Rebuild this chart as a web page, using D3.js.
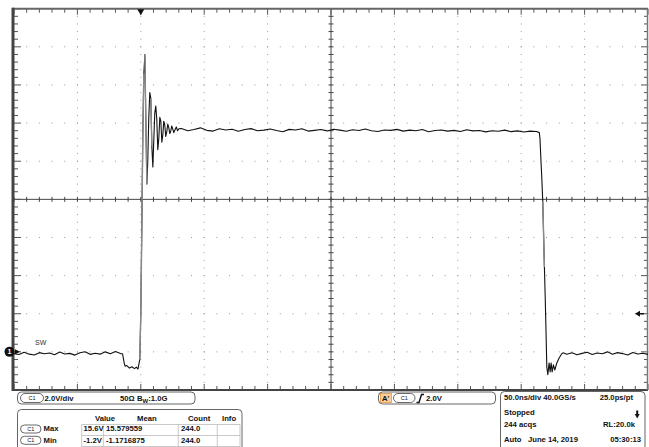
<!DOCTYPE html>
<html><head><meta charset="utf-8">
<script src="https://cdn.jsdelivr.net/npm/d3@7"></script>
<style>body{margin:0;background:#fff}svg{display:block}</style>
</head><body>
<script>
// ---- waveform data (time in ns relative to trigger, volts) ----
const timeNs = [
 -100,-96,-92,-88,-84,-80,-76,-72,-68,-64,-60,-56,-52,-48,-44,-40,-36,-32,-28,-24,-20,-16,
 -14.4,-13.2,-12.4,-11,-9,-7,-5,-3.5,-2.2,-1.4,-0.8,0,0.8,1.6,2.4,3.2,4.0,4.8,5.5,6.3,7.1,7.9,8.7,9.5,10.3,11.0,11.8,12.6,13.4,14.2,15.0,15.8,16.6,17.4,18.1,18.9,19.7,20.5,21.3,22.1,22.9,23.7,24.4,25.2,26,27,28,29,30,
 32,37,42,47,52,57,62,67,72,77,82,87,92,97,102,107,112,117,122,127,132,137,142,147,152,157,162,167,172,177,182,187,192,197,202,207,212,217,222,227,232,237,242,247,252,257,262,267,272,277,282,287,292,297,302,307,312,
 314.3,314.8,315.6,316.2,317,318.3,319,319.6,320.2,321,322,322.8,323.6,324.4,325.4,326.5,328.1,329.9,332,333,
 336,340,344,348,352,356,360,364,368,372,376,380,384,388,392,396,400
];
const voltsV = [
 -0.09,-0.14,-0.02,-0.12,-0.16,-0.04,-0.10,-0.06,-0.15,-0.01,-0.11,-0.08,-0.17,-0.05,0.01,-0.13,-0.07,-0.12,0.00,-0.10,0.02,-0.09,
 -0.10,-0.55,-0.75,-0.72,-0.85,-0.78,-0.88,-0.80,-0.90,-0.60,-0.40,2.0,6.5,11.5,14.6,15.6,12.0,8.8,10.0,12.3,13.6,13.3,10.8,9.7,11.2,12.5,12.9,12.2,10.6,11.2,12.3,12.1,11.0,11.4,12.1,11.9,11.3,11.55,11.95,11.75,11.45,11.6,11.85,11.7,11.5,11.65,11.8,11.6,11.7,
 11.72,11.60,11.66,11.75,11.62,11.58,11.70,11.64,11.68,11.57,11.66,11.71,11.60,11.63,11.69,11.61,11.55,11.67,11.64,11.70,11.58,11.62,11.66,11.59,11.68,11.63,11.57,11.65,11.61,11.69,11.60,11.56,11.64,11.62,11.67,11.58,11.63,11.60,11.66,11.55,11.61,11.64,11.58,11.62,11.56,11.65,11.59,11.61,11.54,11.60,11.57,11.63,11.55,11.59,11.53,11.58,11.56,
 11.50,11.2,10.0,9.2,7.9,4.45,2.7,1.0,-0.8,-1.2,-0.58,-1.05,-0.58,-1.05,-0.68,-0.95,-0.58,-0.32,-0.10,-0.05,
 -0.12,-0.05,-0.15,-0.08,-0.02,-0.14,-0.06,-0.10,0.00,-0.12,-0.04,-0.09,-0.16,-0.03,-0.11,-0.07,-0.13
];
const timeDomain = [-100, 400];     // 50 ns/div, 10 div
const voltDomain = [-2, 18];        // 2 V/div, 10 div
const triggerTime = 0, triggerLevel = 2.0;
const channelLabel = "SW";
const measHeaders = ["Value","Mean","Count","Info"];
const measNames = ["Max","Min"];
const measValue = ["15.6V","-1.2V"];
const measMean = ["15.579559","-1.1716875"];
const measCount = ["244.0","244.0"];
const acqLines = [["50.0ns/div 40.0GS/s","25.0ps/pt"],["Stopped",""],["244 acqs","RL:20.0k"],["Auto   June 14, 2019","05:30:13"]];

const W=649,H=447;
const svg=d3.select("body").append("svg").attr("width",W).attr("height",H);
svg.append("rect").attr("width",W).attr("height",H).attr("fill","#fff");
const L=14,R=648,T=8.7,B=390;
const x=d3.scaleLinear().domain(timeDomain).range([L,R]);
const y=d3.scaleLinear().domain(voltDomain).range([B,T]);
const FONT="'Liberation Sans', Arial, sans-serif";

const majT=d3.range(timeDomain[0],timeDomain[1]+0.01,50);
const majV=d3.range(voltDomain[0],voltDomain[1]+0.01,2);
const minT=d3.range(timeDomain[0],timeDomain[1]+0.01,10);
const minV=d3.range(voltDomain[0],voltDomain[1]+0.01,0.4);
const g=svg.append("g");
// dotted grid
majT.slice(1,-1).forEach((t,i)=>{ if(i===4) return;
  minV.forEach(v=>g.append("rect").attr("x",x(t)-0.5).attr("y",y(v)-0.5).attr("width",1).attr("height",1).attr("fill","#999"));
});
majV.slice(1,-1).forEach((v,i)=>{ if(i===4) return;
  minT.forEach(t=>g.append("rect").attr("x",x(t)-0.5).attr("y",y(v)-0.5).attr("width",1).attr("height",1).attr("fill","#999"));
});
// center cross
const cx=x(150), cy=y(8);
g.append("line").attr("x1",L).attr("x2",R).attr("y1",cy).attr("y2",cy).attr("stroke","#444").attr("stroke-width",1);
g.append("line").attr("x1",cx).attr("x2",cx).attr("y1",T).attr("y2",B).attr("stroke","#444").attr("stroke-width",1);
minT.forEach(t=>g.append("line").attr("x1",x(t)).attr("x2",x(t)).attr("y1",cy-2.5).attr("y2",cy+2.5).attr("stroke","#444"));
minV.forEach(v=>g.append("line").attr("x1",cx-2.5).attr("x2",cx+2.5).attr("y1",y(v)).attr("y2",y(v)).attr("stroke","#444"));
// border ticks
const isMajT=t=>Math.abs(((t-timeDomain[0])%50))<0.01, isMajV=v=>Math.abs(((v-voltDomain[0]+1e-6)%2))<0.01;
minT.forEach(t=>{const len=isMajT(t)?6:4;
  g.append("line").attr("x1",x(t)).attr("x2",x(t)).attr("y1",T).attr("y2",T+len).attr("stroke","#555");
  g.append("line").attr("x1",x(t)).attr("x2",x(t)).attr("y1",B).attr("y2",B-len).attr("stroke","#555");});
minV.forEach(v=>{const len=isMajV(v)?7:4;
  g.append("line").attr("x1",L).attr("x2",L+len).attr("y1",y(v)).attr("y2",y(v)).attr("stroke","#555");
  g.append("line").attr("x1",R).attr("x2",R-len).attr("y1",y(v)).attr("y2",y(v)).attr("stroke","#555");});
// border
g.append("line").attr("x1",L-2).attr("x2",R).attr("y1",T).attr("y2",T).attr("stroke","#666").attr("stroke-width",2);
g.append("line").attr("x1",L-2).attr("x2",R).attr("y1",B).attr("y2",B).attr("stroke","#444").attr("stroke-width",2);
g.append("line").attr("x1",L-1).attr("x2",L-1).attr("y1",T-1).attr("y2",B+1).attr("stroke","#444").attr("stroke-width",3);
g.append("line").attr("x1",R-0.5).attr("x2",R-0.5).attr("y1",T).attr("y2",B).attr("stroke","#777").attr("stroke-width",1.5);

// trace
const pts=timeNs.map((t,i)=>[t,voltsV[i]]);
const line=d3.line().x(d=>x(d[0])).y(d=>y(d[1]));
g.append("path").attr("d",line(pts)).attr("fill","none").attr("stroke","#111").attr("stroke-width",1.1).attr("stroke-linejoin","round");
// steep edges drawn with lower intensity (grey), as on the scope display
for(let i=1;i<pts.length;i++){
  if(Math.abs(y(pts[i][1])-y(pts[i-1][1]))>45){
    g.append("line").attr("x1",x(pts[i-1][0])).attr("y1",y(pts[i-1][1])).attr("x2",x(pts[i][0])).attr("y2",y(pts[i][1]))
     .attr("stroke","#8a8a8a").attr("stroke-width",1.4);
  }
}

// trigger position marker
const tx=x(triggerTime);
g.append("path").attr("d",`M${tx-3.5},${T+0.5}L${tx+3.5},${T+0.5}L${tx},${T+6.5}Z`).attr("fill","#111");
// trigger level arrow
const ty=y(triggerLevel);
g.append("path").attr("d",`M${R-13},${ty}L${R-8},${ty-3}L${R-8},${ty+3}Z`).attr("fill","#111");
g.append("line").attr("x1",R-9).attr("x2",R-4).attr("y1",ty).attr("y2",ty).attr("stroke","#111").attr("stroke-width",1.5);
// ground marker
const gy=y(0);
g.append("circle").attr("cx",9.5).attr("cy",gy).attr("r",5).attr("fill","#111");
g.append("text").attr("x",9.5).attr("y",gy+2.5).attr("text-anchor","middle").attr("font-family",FONT).attr("font-size",7).attr("font-weight","bold").attr("fill","#fff").text("1");
g.append("path").attr("d",`M15,${gy-2.5}L20,${gy}L15,${gy+2.5}Z`).attr("fill","#111");
g.append("text").attr("x",35).attr("y",345).attr("font-family",FONT).attr("font-size",7).attr("fill","#333").text(channelLabel);

// ---- bottom panels ----
const p=svg.append("g").attr("font-family",FONT).attr("font-weight","bold").attr("font-size",7.7).attr("fill","#111");
function pill(px,py,w,h){p.append("rect").attr("x",px).attr("y",py).attr("width",w).attr("height",h).attr("rx",h/2).attr("fill","#fff").attr("stroke","#444").attr("stroke-width",0.8);
  p.append("text").attr("x",px+w/2).attr("y",py+h/2+2).attr("text-anchor","middle").attr("font-size",5.5).attr("font-weight","normal").text("C1");}
// box 1
p.append("rect").attr("x",17.5).attr("y",392).attr("width",177.5).attr("height",12).attr("rx",4).attr("fill","none").attr("stroke","#555").attr("stroke-width",0.9);
pill(20.5,393.5,23,9);
p.append("text").attr("x",44.5).attr("y",401.3).text("2.0V/div");
p.append("text").attr("x",120).attr("y",401.3).text("50Ω");
const bw=p.append("text").attr("x",137).attr("y",401.3);
bw.append("tspan").text("B"); bw.append("tspan").attr("dy",2).attr("font-size",6).text("W"); bw.append("tspan").attr("dy",-2).text(":1.0G");
// table
p.append("rect").attr("x",17.5).attr("y",409.5).attr("width",224.5).attr("height",50).attr("rx",4).attr("fill","none").attr("stroke","#555").attr("stroke-width",0.9);
const colX=[81.7,103.3,178.3,217.3,240];
const hdrX=[95,137,188,222];
measHeaders.forEach((h,i)=>p.append("text").attr("x",hdrX[i]).attr("y",421).text(h));
[424.5,435.5,446.5].forEach(yy=>p.append("line").attr("x1",colX[0]).attr("x2",colX[4]).attr("y1",yy).attr("y2",yy).attr("stroke","#bbb").attr("stroke-width",0.8));
colX.forEach(xx=>p.append("line").attr("x1",xx).attr("x2",xx).attr("y1",424.5).attr("y2",447).attr("stroke","#bbb").attr("stroke-width",0.8));
measNames.forEach((n,i)=>{const by=431.3+i*11.3;
  pill(20.5,by-6.3,20.5,8);
  p.append("text").attr("x",43.5).attr("y",by).text(n);
  p.append("text").attr("x",83.5).attr("y",by).text(measValue[i]);
  p.append("text").attr("x",106).attr("y",by).text(measMean[i]);
  p.append("text").attr("x",181).attr("y",by).text(measCount[i]);
});
// trigger box
p.append("rect").attr("x",378.5).attr("y",392).attr("width",117).attr("height",12).attr("rx",4).attr("fill","none").attr("stroke","#555").attr("stroke-width",0.9);
p.append("rect").attr("x",380.5).attr("y",393.5).attr("width",11).attr("height",9).attr("fill","#f9cfa0").attr("stroke","#e8963e").attr("stroke-width",0.8);
p.append("text").attr("x",382).attr("y",401.3).text("A'");
pill(393.5,393.5,21.5,9);
p.append("path").attr("d","M416.5,402.5L419,402.5L421.5,394.5L424,394.5").attr("fill","none").attr("stroke","#111").attr("stroke-width",1.4);
p.append("text").attr("x",426).attr("y",401.3).text(triggerLevel.toFixed(1)+"V");
// acquisition panel
p.append("rect").attr("x",500.5).attr("y",391.5).attr("width",144.5).attr("height",70).attr("rx",4).attr("fill","none").attr("stroke","#555").attr("stroke-width",0.9);
const rowY=[400.3,415,426.7,441.7];
acqLines.forEach((r,i)=>{
  p.append("text").attr("x",504).attr("y",rowY[i]).attr("xml:space","preserve").style("white-space","pre").text(r[0]);
  if(r[1]) p.append("text").attr("x",i===0?633:(i===2?635:641)).attr("y",rowY[i]).attr("text-anchor","end").text(r[1]);
});
p.append("rect").attr("x",636.2).attr("y",410.5).attr("width",2).attr("height",4).attr("fill","#111");
p.append("path").attr("d","M634.7,414L639.7,414L637.2,418.5Z").attr("fill","#111");
</script>
</body></html>
